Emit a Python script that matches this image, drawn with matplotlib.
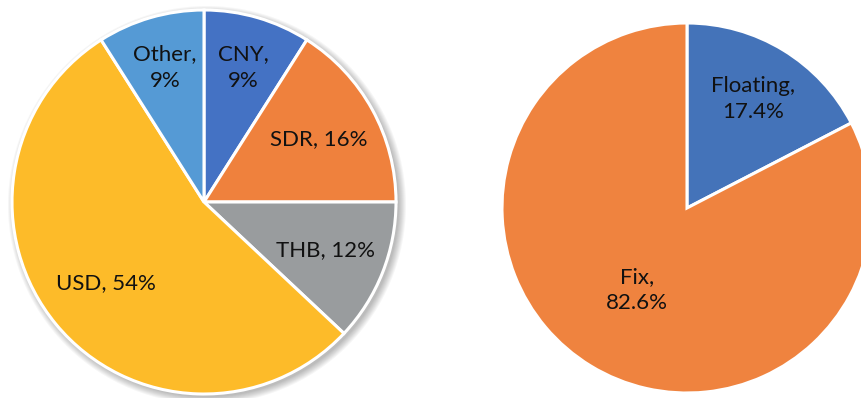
import matplotlib.pyplot as plt
import numpy as np
from matplotlib.patches import Circle

# currency split of the borrowing portfolio
currencies = ["CNY", "SDR", "THB", "USD", "Other"]
currency_share = [9, 16, 12, 54, 9]
currency_colors = ["#4472C4", "#EF813D", "#999C9E", "#FDBB29", "#559AD5"]
currency_label_r = [0.73, 0.68, 0.68, 0.66, 0.73]

# interest rate type
rate_types = ["Floating", "Fix"]
rate_share = [17.4, 82.6]
rate_colors = ["#4473B9", "#EF833F"]
rate_label_r = [0.69, 0.52]

plt.rcParams['font.family'] = ['Lato', 'DejaVu Sans']

fig = plt.figure(figsize=(8.62, 3.98), dpi=100)
ax = fig.add_axes([0, 0, 1, 1])

def put_labels(wedges, names, values, radii, center, radius, fmt):
    for w, name, val, r in zip(wedges, names, values, radii):
        mid = np.deg2rad((w.theta1 + w.theta2) / 2)
        x = center[0] + r * radius * np.cos(mid)
        y = center[1] + r * radius * np.sin(mid)
        ax.text(x, y, fmt(name, val), ha='center', va='center',
                fontsize=16, color='#111111', linespacing=1.4)

# left pie, with a soft drop shadow behind it
c1, r1 = (204, 196), 192
for k in range(8):
    ax.add_patch(Circle((c1[0] + 3, c1[1] - 3), r1 + 7 - k,
                        color='#000000', alpha=0.035, lw=0, zorder=0))
w1, _ = ax.pie(currency_share, colors=currency_colors, startangle=90,
               counterclock=False, center=c1, radius=r1,
               wedgeprops=dict(edgecolor='white', linewidth=2.2), frame=True)
put_labels(w1, currencies, currency_share, currency_label_r, c1, r1,
           lambda n, v: f"{n},\n{v}%" if n in ("CNY", "Other") else f"{n}, {v}%")

# right pie
c2, r2 = (687, 190), 185
w2, _ = ax.pie(rate_share, colors=rate_colors, startangle=90,
               counterclock=False, center=c2, radius=r2,
               wedgeprops=dict(edgecolor='white', linewidth=2.2), frame=True)
put_labels(w2, rate_types, rate_share, rate_label_r, c2, r2,
           lambda n, v: f"{n},\n{v}%")

ax.set_xlim(0, 862)
ax.set_ylim(0, 398)
ax.set_aspect('equal')
ax.axis('off')

fig.savefig("out.png", dpi=100)
